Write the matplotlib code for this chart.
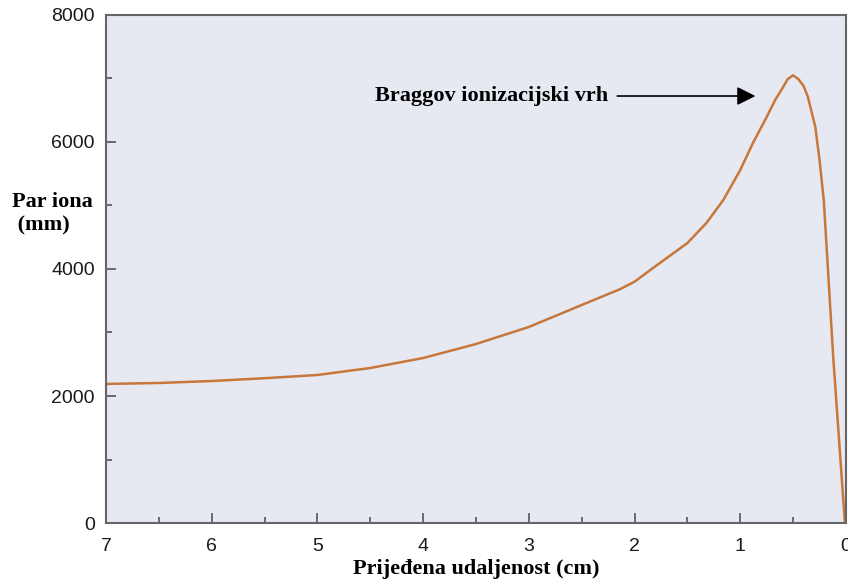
import numpy as np
import matplotlib.pyplot as plt
from matplotlib.ticker import MultipleLocator

# distance travelled (cm) and ion pairs per mm
dist = [7.0, 6.5, 6.0, 5.5, 5.0, 4.5, 4.0, 3.5, 3.0, 2.5, 2.14, 2.0, 1.83,
        1.5, 1.32, 1.16, 1.0, 0.88, 0.75, 0.67, 0.6, 0.55, 0.5, 0.45, 0.4,
        0.36, 0.29, 0.25, 0.21, 0.12, 0.01]
ions = [2190, 2205, 2236, 2280, 2331, 2441, 2598, 2819, 3087, 3433, 3680,
        3800, 4010, 4409, 4724, 5087, 5559, 5984, 6394, 6661, 6850, 6992,
        7050, 6990, 6880, 6709, 6236, 5717, 5087, 2600, 0]

xticks = [7, 6, 5, 4, 3, 2, 1, 0]
yticks = [0, 2000, 4000, 6000, 8000]

fig = plt.figure(figsize=(8.48, 5.83), dpi=100)
ax = fig.add_axes([0.125, 0.1029, 0.8726, 0.8714])
ax.set_facecolor("#e6e8f2")

ax.plot(dist, ions, color="#c8773a", lw=1.8)

ax.set_xlim(7, 0)
ax.set_ylim(0, 8000)
ax.set_xticks(xticks)
ax.set_yticks(yticks)
ax.xaxis.set_minor_locator(MultipleLocator(0.5))
ax.yaxis.set_minor_locator(MultipleLocator(1000))
ax.tick_params(which="both", direction="in", color="#555555", width=1.2)
ax.tick_params(which="major", length=7, labelsize=14)
ax.tick_params(which="minor", length=4)
ax.tick_params(axis="x", which="major", pad=11)
ax.tick_params(axis="y", which="major", pad=8)
for lbl in ax.get_xticklabels() + ax.get_yticklabels():
    lbl.set_family("Liberation Sans")
    lbl.set_color("#1a1a1a")

for s in ax.spines.values():
    s.set_color("#666666")
    s.set_linewidth(1.5)

ax.set_xlabel("Prijeđena udaljenost (cm)", family="Liberation Serif",
              fontweight="bold", fontsize=16, labelpad=3)
fig.text(0.014, 0.633, "Par iona\n (mm)", family="Liberation Serif",
         fontweight="bold", fontsize=16, ha="left", va="center",
         linespacing=1.2)

ax.annotate("", xy=(0.83, 6724), xytext=(2.19, 6724),
            arrowprops=dict(arrowstyle="-|>", color="black", lw=1.2,
                            mutation_scale=28))
ax.text(2.25, 6724, "Braggov ionizacijski vrh", family="Liberation Serif",
        fontweight="bold", fontsize=16, ha="right", va="center")

fig.savefig("out.png", dpi=100)
